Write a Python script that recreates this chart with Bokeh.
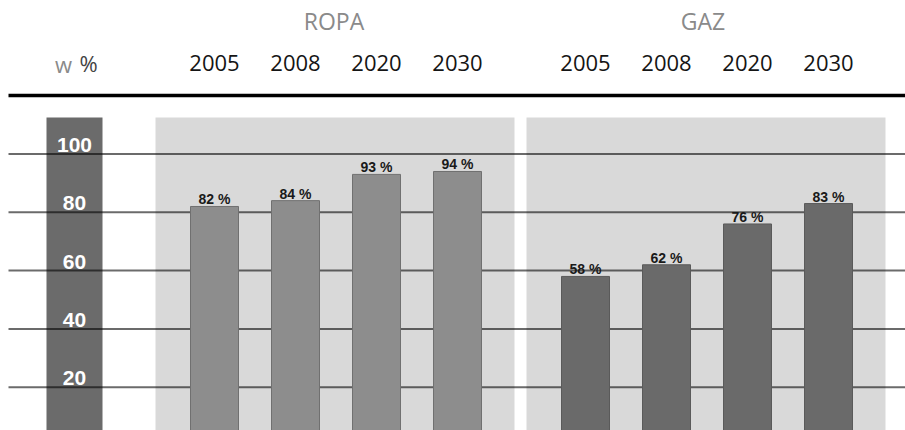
from bokeh.plotting import figure
from bokeh.models import ColumnDataSource, Range1d
from bokeh.core.properties import value
from bokeh.embed import file_html
from bokeh.resources import INLINE

# ---- data ----
groups = ["ROPA", "GAZ"]
years = ["2005", "2008", "2020", "2030"]
ropa_values = [82, 84, 93, 94]
gaz_values = [58, 62, 76, 83]
y_ticks = [20, 40, 60, 80, 100]
unit_label = ["w", "%"]

# ---- layout parameters ----
W, H = 905, 430
zero_px = 445.0          # pixel row of value 0 (below the visible area)
k = 2.915                # pixels per percentage point
def row(px):             # convert a pixel row of the header into value units
    return (zero_px - px) / k

ropa_start, gaz_start, step = 214, 585, 81
bar_w = 48
col_left, col_right = 46, 102
panel_left_pad, panel_right_pad = 59, 57
line_left = 8

ropa_x = [ropa_start + i * step for i in range(len(years))]
gaz_x = [gaz_start + i * step for i in range(len(years))]

p = figure(width=W, height=H, output_backend="svg", toolbar_location=None,
           x_range=Range1d(0, W), y_range=Range1d(row(H), row(0)),
           x_axis_location=None, y_axis_location=None,
           min_border=0)
p.outline_line_color = None
p.background_fill_color = "white"
p.border_fill_color = "white"
p.xgrid.visible = False
p.ygrid.visible = False

# background panels
p.quad(left=[ropa_x[0] - panel_left_pad, gaz_x[0] - panel_left_pad],
       right=[ropa_x[-1] + panel_right_pad, gaz_x[-1] + panel_right_pad],
       bottom=[0, 0], top=[row(117)] * 2,
       fill_color="#d9d9d9", line_color=None)
p.quad(left=[col_left], right=[col_right], bottom=[0], top=[row(117)],
       fill_color="#6b6b6b", line_color=None)

# horizontal gridlines
p.segment(x0=[line_left] * len(y_ticks), x1=[W] * len(y_ticks),
          y0=y_ticks, y1=y_ticks, line_color="black", line_alpha=0.58,
          line_width=2)

# thick separator line under the header
p.segment(x0=[line_left], x1=[W], y0=[row(95)], y1=[row(95)],
          line_color="black", line_width=3.5)

# bars
rsrc = ColumnDataSource(dict(x=ropa_x, top=ropa_values,
                             lab=[f"{v} %" for v in ropa_values]))
gsrc = ColumnDataSource(dict(x=gaz_x, top=gaz_values,
                             lab=[f"{v} %" for v in gaz_values]))
p.vbar(x="x", top="top", bottom=0, width=bar_w, source=rsrc,
       fill_color="#8d8d8d", line_color="#707070", line_width=1)
p.vbar(x="x", top="top", bottom=0, width=bar_w, source=gsrc,
       fill_color="#6a6a6a", line_color="#5a5a5a", line_width=1)
for src in (rsrc, gsrc):
    p.text(x="x", y="top", text="lab", source=src, text_align="center",
           text_baseline="bottom", y_offset=1,
           text_font=value("Liberation Sans"), text_font_style="bold",
           text_font_size="14px", text_color="#1a1a1a")

# value scale inside the dark column
p.text(x=[(col_left + col_right) / 2] * len(y_ticks), y=y_ticks,
       text=[str(t) for t in y_ticks], text_align="center",
       text_baseline="bottom", y_offset=-2,
       text_font=value("Liberation Sans"), text_font_style="bold",
       text_font_size="21px", text_color="white")

# year labels
p.text(x=ropa_x + gaz_x, y=[row(62)] * (2 * len(years)), text=years + years,
       text_align="center", text_baseline="middle",
       text_font=value("Open Sans"),
       text_font_size="22px", text_color="#151515")

# group titles
p.text(x=[(ropa_x[0] + ropa_x[-1]) / 2 - 2, (gaz_x[0] + gaz_x[-1]) / 2 - 4],
       y=[row(20)] * 2, text=groups, text_align="center",
       text_baseline="middle", text_font=value("Open Sans"),
       text_font_size="23px", text_color="#8a8a8a")

# unit label "w %"
p.text(x=[63], y=[row(63)], text=[unit_label[0]], text_align="center",
       text_baseline="middle", text_font=value("Open Sans"),
       text_font_size="22px", text_color="#8a8a8a")
p.text(x=[88], y=[row(62)], text=[unit_label[1]], text_align="center",
       text_baseline="middle", text_font=value("Open Sans"),
       text_font_size="22px", text_color="#444444")

open("out.html", "w").write(file_html(p, INLINE))
